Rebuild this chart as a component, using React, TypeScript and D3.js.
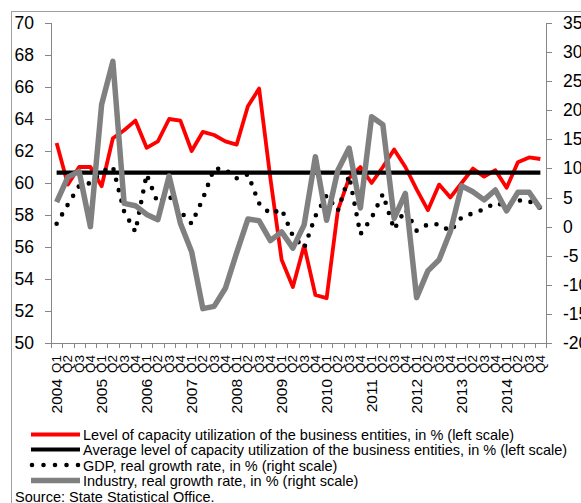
import React from "react";
import * as d3 from "d3";

const years = [2004, 2005, 2006, 2007, 2008, 2009, 2010, 2011, 2012, 2013, 2014];
const quarters = ["Q1", "Q2", "Q3", "Q4"];

// Level of capacity utilization (left scale)
const capacity = [
  62.5, 59.9, 61.0, 61.0, 59.8, 62.8, 63.3, 63.9, 62.2, 62.6, 64.0,
  63.9, 62.0, 63.2, 63.0, 62.6, 62.4, 64.8, 65.9, 60.3, 55.2, 53.5,
  56.1, 53.0, 52.8, 58.3, 60.3, 61.0, 60.0, 61.0, 62.1, 61.0, 59.6,
  58.3, 59.9, 59.1, 60.0, 60.9, 60.4, 60.8, 59.7, 61.3, 61.6, 61.5,
];
// Average level of capacity utilization (left scale)
const averageLevel = 60.65;
// GDP real growth rate (right scale)
const gdp = [
  0.5, 3.8, 7.0, 7.5, 9.4, 10.3, 2.6, -0.9, 9.0, 4.0, 5.3,
  2.6, 0.5, 4.8, 10.0, 9.8, 8.3, 9.0, 4.0, 2.2, 3.0, -1.6,
  -3.7, 1.8, 5.4, 2.7, 8.8, -1.3, 1.5, 5.6, -0.5, 3.0, -0.7,
  0.4, 0.4, -0.8, 1.6, 2.3, 3.0, 4.1, 3.5, 4.5, 4.4, 3.2,
];
// Industry real growth rate (right scale)
const industry = [
  4.2, 8.5, 9.5, 0.0, 21.0, 28.4, 4.0, 3.6, 2.1, 1.2, 8.7,
  0.6, -4.3, -14.1, -13.7, -10.6, -4.5, 1.3, 1.0, -2.4, -0.9, -3.7,
  0.3, 12.0, 1.1, 9.7, 13.5, 3.2, 18.9, 17.5, 1.4, 5.7, -12.2,
  -7.6, -5.7, -0.8, 7.0, 6.0, 4.6, 6.3, 2.7, 5.9, 5.9, 3.1,
];

const leftTicks = [50, 52, 54, 56, 58, 60, 62, 64, 66, 68, 70];
const rightTicks = [-20, -15, -10, -5, 0, 5, 10, 15, 20, 25, 30, 35];

const legendItems = [
  "Level of capacity utilization of the business entities, in % (left scale)",
  "Average level of capacity utilization of the business entities, in % (left scale)",
  "GDP, real growth rate, in % (right scale)",
  "Industry, real growth rate, in % (right scale)",
];
const sourceText = "Source: State Statistical Office.";

const categories = years.flatMap((y) => quarters.map((q) => `${y} ${q}`));

const W = 581;
const H = 503;
const plot = { left: 51, right: 546, top: 23, bottom: 343 };
const FONT = "'Liberation Sans', Arial, sans-serif";
const AXIS = "#868686";

export default function App() {
  const x = d3.scaleBand<string>().domain(categories).range([plot.left, plot.right]).padding(0);
  const bw = x.bandwidth();
  const cx = (c: string) => (x(c) as number) + bw / 2;
  const yL = d3.scaleLinear().domain([50, 70]).range([plot.bottom, plot.top]);
  const yR = d3.scaleLinear().domain([-20, 35]).range([plot.bottom, plot.top]);

  const lineL = d3
    .line<number>()
    .x((_, i) => cx(categories[i]))
    .y((d) => yL(d));
  const lineR = d3
    .line<number>()
    .x((_, i) => cx(categories[i]))
    .y((d) => yR(d));

  const avgSeries = categories.map(() => averageLevel);
  const boundaries = d3.range(categories.length + 1).map((i) => plot.left + i * bw);

  const legendY = [434.5, 449.5, 465, 480.5];

  return (
    <svg
      width={W}
      height={H}
      style={{ position: "absolute", left: 0, top: 0, background: "#fff" }}
      fontFamily={FONT}
    >
      <rect x={0} y={0} width={W} height={H} fill="#fff" />
      <rect x={11.5} y={11.5} width={W + 20} height={H + 20} fill="none" stroke="#a0a0a0" strokeWidth={1} />

      {/* left axis */}
      <line x1={plot.left + 0.5} x2={plot.left + 0.5} y1={plot.top} y2={plot.bottom} stroke={AXIS} />
      {leftTicks.map((t) => (
        <g key={`l${t}`}>
          <line x1={plot.left - 6} x2={plot.left} y1={Math.round(yL(t)) + 0.5} y2={Math.round(yL(t)) + 0.5} stroke={AXIS} />
          <text x={34} y={yL(t)} textAnchor="end" dominantBaseline="central" fontSize={17.5} fill="#000">
            {t}
          </text>
        </g>
      ))}

      {/* right axis */}
      <line x1={plot.right + 0.5} x2={plot.right + 0.5} y1={plot.top} y2={plot.bottom} stroke={AXIS} />
      {rightTicks.map((t) => (
        <g key={`r${t}`}>
          <line x1={plot.right} x2={plot.right + 6} y1={Math.round(yR(t)) + 0.5} y2={Math.round(yR(t)) + 0.5} stroke={AXIS} />
          <text x={563} y={yR(t)} textAnchor="start" dominantBaseline="central" fontSize={17.5} fill="#000">
            {t}
          </text>
        </g>
      ))}

      {/* bottom axis */}
      <line x1={plot.left} x2={plot.right + 1} y1={plot.bottom + 0.5} y2={plot.bottom + 0.5} stroke={AXIS} />
      {boundaries.map((b, i) => (
        <line key={`t${i}`} x1={Math.round(b) + 0.5} x2={Math.round(b) + 0.5} y1={plot.bottom} y2={plot.bottom + 5} stroke={AXIS} />
      ))}
      {categories.map((c) => {
        const q = c.split(" ")[1];
        const px = cx(c);
        return (
          <text
            key={`q${c}`}
            transform={`translate(${px},355) rotate(-90)`}
            textAnchor="end"
            dominantBaseline="central"
            fontSize={13.5}
            fill="#000"
          >
            {q}
          </text>
        );
      })}
      {years.map((y) => {
        const px = cx(`${y} Q1`);
        return (
          <text
            key={`y${y}`}
            transform={`translate(${px},379) rotate(-90)`}
            textAnchor="end"
            dominantBaseline="central"
            fontSize={15.5}
            fill="#000"
          >
            {y}
          </text>
        );
      })}

      {/* series */}
      <path d={lineL(capacity) as string} fill="none" stroke="#ff0000" strokeWidth={3.8} strokeLinejoin="round" />
      <path d={lineL(avgSeries) as string} fill="none" stroke="#000" strokeWidth={4.2} />
      <path
        d={lineR(gdp) as string}
        fill="none"
        stroke="#000"
        strokeWidth={4.6}
        strokeLinecap="round"
        strokeDasharray="0 10.8"
      />
      <path d={lineR(industry) as string} fill="none" stroke="#808080" strokeWidth={5.5} strokeLinejoin="round" />

      {/* legend */}
      <line x1={31} x2={80} y1={legendY[0]} y2={legendY[0]} stroke="#ff0000" strokeWidth={3.8} />
      <line x1={31} x2={80} y1={legendY[1]} y2={legendY[1]} stroke="#000" strokeWidth={4.2} />
      <line x1={32} x2={79} y1={legendY[2]} y2={legendY[2]} stroke="#000" strokeWidth={4.6} strokeLinecap="round" strokeDasharray="0 11.5" />
      <line x1={31} x2={80} y1={legendY[3]} y2={legendY[3]} stroke="#808080" strokeWidth={5.5} />
      {legendItems.map((t, i) => (
        <text key={`lg${i}`} x={83} y={legendY[i] + 0.5} dominantBaseline="central" fontSize={14.5} fill="#000">
          {t}
        </text>
      ))}
      <text x={15} y={502} fontSize={14.5} fill="#000">
        {sourceText}
      </text>
    </svg>
  );
}
